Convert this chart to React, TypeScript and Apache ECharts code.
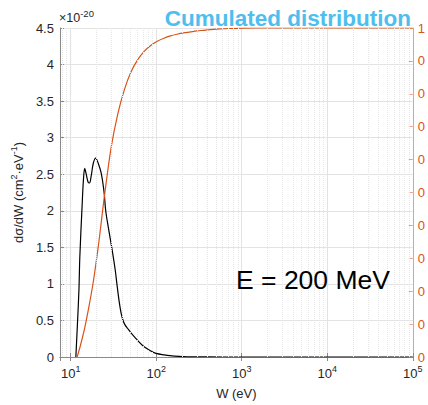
import React, { useEffect, useRef } from "react";
import * as echarts from "echarts";

// Differential cross-section (×1e-20 cm²·eV⁻¹) vs W (eV)
const wDiff = [11.5, 12.0, 12.5, 12.8, 13.6, 14.1, 14.6, 15.2, 16.0, 16.6, 17.4, 18.4, 19.6, 21.0, 22.8, 24.6, 25.7, 27.5, 30.2, 33.1, 34.9, 36.9, 38.9, 41.0, 43.2, 46.4, 50.7, 55.4, 65, 72.3, 94, 135, 208, 400, 1000, 100000];
const dDiff = [0, 0.45, 0.92, 1.37, 2.06, 2.42, 2.58, 2.5, 2.39, 2.38, 2.48, 2.65, 2.72, 2.65, 2.51, 2.25, 2.0, 1.78, 1.5, 1.2, 0.98, 0.76, 0.6, 0.5, 0.44, 0.39, 0.33, 0.28, 0.19, 0.14, 0.06, 0.023, 0.006, 0.001, 0, 0];

// Cumulated distribution vs W (eV)
const wCum = [11.9, 13, 14.5, 16.0, 18.3, 20.9, 22.8, 24.9, 29.8, 35.6, 42.4, 50.7, 60.6, 72.3, 86.3, 103, 123, 147, 175, 209, 250, 298, 356, 425, 507, 720, 1030, 1500, 100000];
const cCum = [0, 0.035, 0.085, 0.14, 0.225, 0.33, 0.41, 0.492, 0.638, 0.739, 0.812, 0.866, 0.903, 0.929, 0.947, 0.96, 0.969, 0.976, 0.981, 0.985, 0.988, 0.991, 0.993, 0.995, 0.9965, 0.9985, 0.9997, 1, 1];

// Minor grid positions on the log axis
const minorW = [8, 9, 20, 30, 40, 50, 60, 70, 80, 90, 200, 300, 400, 500, 600, 700, 800, 900, 2000, 3000, 4000, 5000, 6000, 7000, 8000, 9000, 20000, 30000, 40000, 50000, 60000, 70000, 80000, 90000];

const X_MIN = 7.5;
const X_MAX = 100000;
const FONT = "'Liberation Sans', Arial, Helvetica, sans-serif";
const AX = "#8a8a8a";
const ORANGE = "#D95319";

export default function App() {
  const ref = useRef<HTMLDivElement>(null);
  useEffect(() => {
    if (!ref.current) return;
    const chart = echarts.init(ref.current, null, { renderer: "svg" });
    const isPow = (v: number) => Math.abs(Math.log10(v) - Math.round(Math.log10(v))) < 1e-6;
    const supRich = {
      b: { fontSize: 13, fontFamily: FONT, color: "#262626", lineHeight: 14, padding: [4, 0, 0, 0] },
      s: { fontSize: 9, fontFamily: FONT, color: "#262626", lineHeight: 10, verticalAlign: "top" },
    };
    chart.setOption({
      animation: false,
      textStyle: { fontFamily: FONT },
      grid: { left: 58, right: 12, top: 28, bottom: 48 },
      xAxis: [
        {
          type: "log",
          min: X_MIN,
          max: X_MAX,
          logBase: 10,
          name: "W (eV)",
          nameLocation: "middle",
          nameGap: 30,
          nameTextStyle: { fontSize: 13, color: "#262626", fontFamily: FONT },
          axisLine: { lineStyle: { color: AX, width: 1 } },
          axisTick: { inside: true, length: 4, lineStyle: { color: AX } },
          axisLabel: {
            margin: 7,
            formatter: (v: number) => (isPow(v) ? `{b|10}{s|${Math.round(Math.log10(v))}}` : ""),
            rich: supRich,
          },
          splitLine: { show: true, lineStyle: { color: "#e3e3e3", width: 1 } },
        },
        {
          type: "log",
          min: X_MIN,
          max: X_MAX,
          logBase: 10,
          position: "top",
          axisLine: { lineStyle: { color: AX, width: 1 } },
          axisTick: { inside: true, length: 4, lineStyle: { color: AX } },
          axisLabel: { show: false },
          splitLine: { show: false },
        },
      ],
      yAxis: [
        {
          type: "value",
          min: 0,
          max: 4.5,
          interval: 0.5,
          name: "{a|dσ/dW (cm}{s|2}{a|·eV}{s|-1}{a|)}",
          nameLocation: "middle",
          nameGap: 31,
          nameRotate: 90,
          nameTextStyle: {
            rich: {
              a: { fontSize: 13, fontFamily: FONT, color: "#262626", lineHeight: 14, padding: [4, 0, 0, 0] },
              s: { fontSize: 9, fontFamily: FONT, color: "#262626", lineHeight: 10, verticalAlign: "top" },
            },
          },
          axisLine: { show: true, lineStyle: { color: AX, width: 1 } },
          axisTick: { show: true, inside: true, length: 4, lineStyle: { color: AX } },
          axisLabel: { fontSize: 13, color: "#262626", margin: 6, fontFamily: FONT },
          splitLine: { show: true, lineStyle: { color: "#e3e3e3", width: 1 } },
        },
        {
          type: "value",
          min: 0,
          max: 1,
          interval: 0.1,
          position: "right",
          axisLine: { show: true, lineStyle: { color: "#e8a283", width: 1 } },
          axisTick: { show: true, inside: true, length: 4, lineStyle: { color: "#e8a283" } },
          axisLabel: {
            fontSize: 13,
            color: ORANGE,
            margin: 5,
            fontFamily: FONT,
            formatter: (v: number) => (v >= 0.999 ? "1" : "0"),
          },
          splitLine: { show: false },
        },
      ],
      series: [
        {
          type: "line",
          name: "dsigma",
          xAxisIndex: 0,
          yAxisIndex: 0,
          data: wDiff.map((w, i) => [w, dDiff[i]]),
          showSymbol: false,
          smooth: 0.35,
          lineStyle: { color: "#000000", width: 1.2 },
          itemStyle: { color: "#000000" },
          silent: true,
          markLine: {
            silent: true,
            symbol: ["none", "none"],
            label: { show: false },
            lineStyle: { type: "dotted", color: "#e6e6e6", width: 1 },
            emphasis: { disabled: true },
            data: minorW.map((v) => ({ xAxis: v })),
          },
          z: 3,
        },
        {
          type: "line",
          name: "cumul",
          xAxisIndex: 0,
          yAxisIndex: 1,
          data: wCum.map((w, i) => [w, cCum[i]]),
          showSymbol: false,
          smooth: 0.35,
          lineStyle: { color: ORANGE, width: 1.2 },
          itemStyle: { color: ORANGE },
          silent: true,
          z: 4,
        },
      ],
      graphic: [
        {
          type: "text",
          x: 59,
          y: 8,
          style: {
            text: "{a|×10}{s|-20}",
            rich: {
              a: { fontSize: 12.5, fontFamily: FONT, fill: "#262626", lineHeight: 14, padding: [5, 0, 0, 0] },
              s: { fontSize: 9.5, fontFamily: FONT, fill: "#262626", lineHeight: 11, verticalAlign: "top" },
            },
          },
        },
        {
          type: "text",
          x: 411,
          y: 18,
          z: 10,
          style: {
            text: "Cumulated distribution",
            fill: "#4DBEEE",
            font: `bold 22.5px ${FONT}`,
            align: "right",
            textAlign: "right",
            verticalAlign: "middle",
            textVerticalAlign: "middle",
          },
        },
        {
          type: "text",
          x: 236,
          y: 280,
          z: 10,
          style: {
            text: "E = 200 MeV",
            fill: "#000000",
            font: `26.5px ${FONT}`,
            align: "left",
            textAlign: "left",
            verticalAlign: "middle",
            textVerticalAlign: "middle",
          },
        },
      ],
    });
    return () => chart.dispose();
  }, []);
  return (
    <div
      ref={ref}
      style={{ position: "fixed", left: 0, top: 0, width: 428, height: 405, background: "#ffffff" }}
    />
  );
}
